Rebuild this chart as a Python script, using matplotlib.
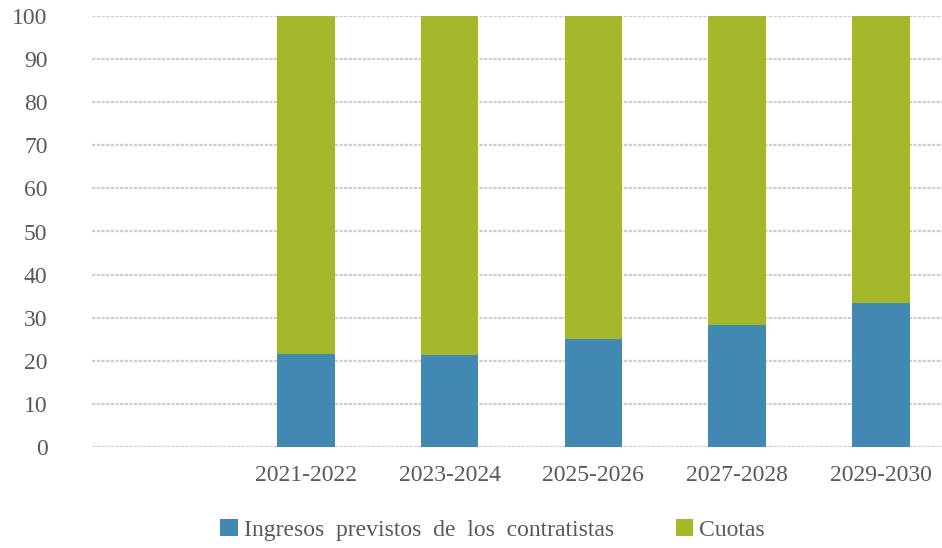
import matplotlib.pyplot as plt
import numpy as np

periodos = ["", "2021-2022", "2023-2024", "2025-2026", "2027-2028", "2029-2030"]
ingresos = [0, 21.6, 21.3, 25.0, 28.3, 33.3]
cuotas = [0, 78.4, 78.7, 75.0, 71.7, 66.7]

azul = "#4189b3"
verde = "#a6b82a"
gris = "#595959"

plt.rcParams["font.family"] = ["Liberation Serif", "DejaVu Serif"]

fig = plt.figure(figsize=(9.42, 5.48), dpi=100)
ax = fig.add_axes([92 / 942, 101 / 548, 850 / 942, 431 / 548])

x = np.arange(len(periodos))
ax.bar(x, ingresos, width=0.4, color=azul, label="Ingresos  previstos  de  los  contratistas", zorder=3)
ax.bar(x, cuotas, width=0.4, bottom=ingresos, color=verde, label="Cuotas", zorder=3)

ax.set_xlim(-0.487, 5.426)
ax.set_ylim(0, 100)
ax.set_yticks(range(0, 101, 10))
ax.set_xticks(x)
ax.set_xticklabels(periodos)

ax.yaxis.grid(True, color="#cfcfcf", linestyle=(0, (1.5, 0.6)), linewidth=1.6, zorder=0)
ax.set_axisbelow(True)
for s in ax.spines.values():
    s.set_visible(False)
ax.tick_params(axis="y", length=0, pad=32, labelsize=17, labelcolor=gris)
ax.tick_params(axis="x", length=0, pad=13, labelsize=17, labelcolor=gris)
for lbl in ax.get_yticklabels():
    lbl.set_horizontalalignment("right")

fig.legend(loc="center", bbox_to_anchor=(0.523, 18 / 548), ncol=2, frameon=False,
           fontsize=17, labelcolor=gris, handlelength=0.75, handleheight=0.75,
           handletextpad=0.25, columnspacing=2.6)

fig.savefig("out.png", dpi=100)
